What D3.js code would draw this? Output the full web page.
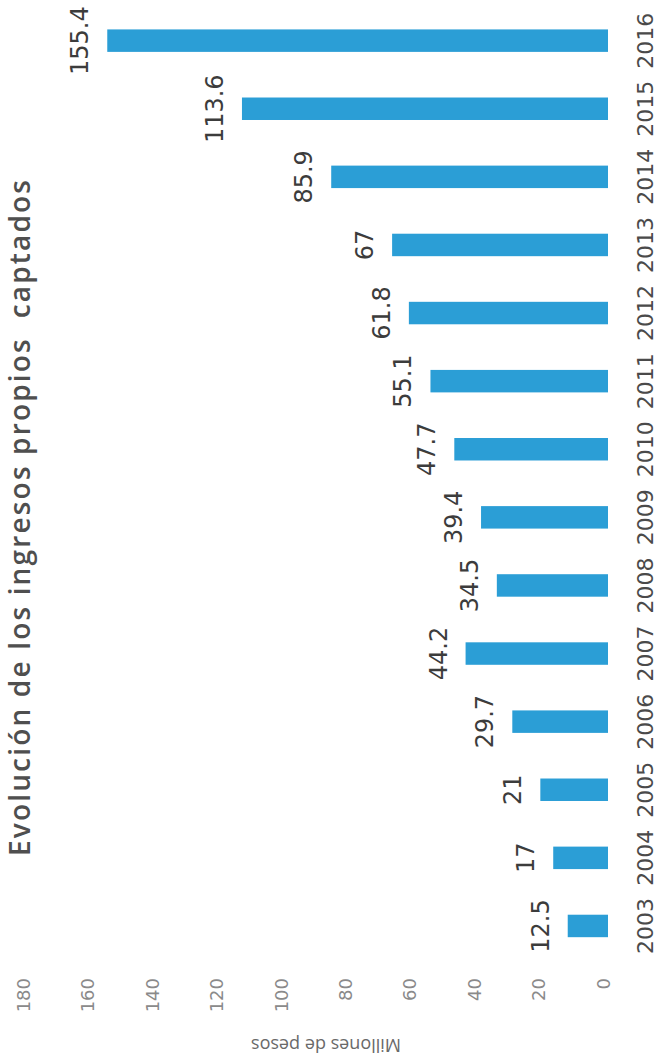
<!DOCTYPE html>
<html><head><meta charset="utf-8">
<script src="https://cdn.jsdelivr.net/npm/d3@7"></script>
<style>body{margin:0;background:#fff}svg{display:block}</style>
</head><body><svg id="c" width="660" height="1061"></svg>
<script>
const years = ["2003","2004","2005","2006","2007","2008","2009","2010","2011","2012","2013","2014","2015","2016"];
const values = [12.5,17,21,29.7,44.2,34.5,39.4,47.7,55.1,61.8,67,85.9,113.6,155.4];
const valueLabels = ["12.5","17","21","29.7","44.2","34.5","39.4","47.7","55.1","61.8","67","85.9","113.6","155.4"];
const tickValues = [0,20,40,60,80,100,120,140,160,180];
const titleText = "Evolución de los ingresos propios  captados";
const axisTitleText = "Millones de pesos";

const data = years.map((y,i)=>({year:y, value:values[i], label:valueLabels[i]}));
const svg = d3.select("#c");
svg.append("rect").attr("width",660).attr("height",1061).attr("fill","#fff");

const x = d3.scaleLinear().domain([0,180]).range([608,28]);
const y = d3.scaleBand().domain(years).range([960,6.6]).paddingInner(0.67).paddingOuter(0.335);

// bars
svg.append("g").selectAll("rect").data(data).join("rect")
  .attr("x",d=>x(d.value)).attr("width",d=>x(0)-x(d.value))
  .attr("y",d=>y(d.year)).attr("height",y.bandwidth())
  .attr("fill","#2b9ed6");

// value labels
svg.append("g").selectAll("text").data(data).join("text")
  .attr("transform",d=>`translate(${x(d.value)-19},${y(d.year)+y.bandwidth()/2}) rotate(-90)`)
  .attr("text-anchor","middle")
  .attr("font-family","DejaVu Sans, sans-serif").attr("font-size",24)
  .attr("fill","#3c3c3c").text(d=>d.label);

// category labels
const yAxis = svg.append("g").attr("transform","translate(653,0)")
  .call(d3.axisRight(y).tickSize(0));
yAxis.select(".domain").remove();
yAxis.selectAll("text")
  .attr("transform","rotate(-90)").attr("x",0).attr("y",0).attr("dy",0)
  .attr("text-anchor","middle")
  .attr("font-family","DejaVu Sans, sans-serif").attr("font-size",22)
  .attr("fill","#4a4a4a");

// value axis tick labels
const xAxis = svg.append("g").attr("transform","translate(-5,978)")
  .call(d3.axisBottom(x).tickValues(tickValues).tickSize(0));
xAxis.select(".domain").remove();
xAxis.selectAll("text")
  .attr("transform","rotate(-90)").attr("x",0).attr("y",0).attr("dy","0.35em")
  .attr("text-anchor","end")
  .attr("font-family","DejaVu Sans, sans-serif").attr("font-size",18)
  .attr("fill","#8a8a8a");

// axis title (upside down)
svg.append("text")
  .attr("transform","translate(326,1039) rotate(180)")
  .attr("text-anchor","middle")
  .attr("font-family","Open Sans, sans-serif").attr("font-size",18)
  .attr("fill","#6a6a6a").text(axisTitleText);

// chart title
svg.append("text")
  .attr("transform","translate(30,518) rotate(-90)")
  .attr("text-anchor","middle")
  .style("white-space","pre")
  .attr("textLength",676).attr("lengthAdjust","spacing")
  .attr("font-family","Open Sans, sans-serif").attr("font-weight",600).attr("font-size",28)
  .attr("fill","#4f4f4f").text(titleText);
</script></body></html>
